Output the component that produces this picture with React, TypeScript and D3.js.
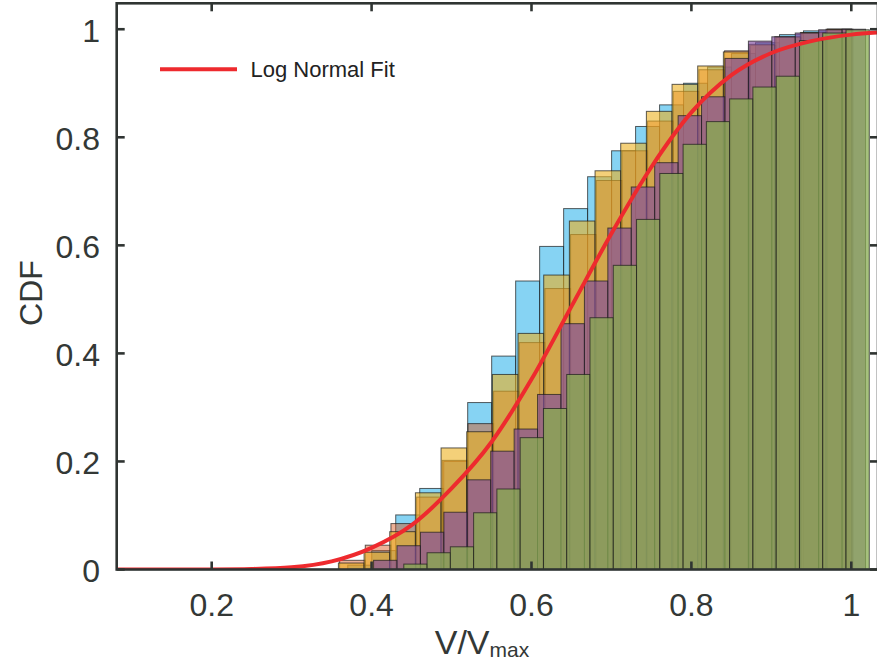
import React from 'react';
import * as d3 from 'd3';

// ---- data ----
const xTicks = [0.2, 0.4, 0.6, 0.8, 1];
const yTicks = [0, 0.2, 0.4, 0.6, 0.8, 1];
const xTickLabels = ['0.2', '0.4', '0.6', '0.8', '1'];
const yTickLabels = ['0', '0.2', '0.4', '0.6', '0.8', '1'];

const blueStart = 0.3702;
const blueWidth = 0.03;
const blueCdf = [0.008, 0.035, 0.101, 0.150, 0.20, 0.309, 0.395, 0.534, 0.598, 0.668, 0.727, 0.775, 0.82, 0.86, 0.90, 0.93, 0.955, 0.975, 0.99, 0.997, 1.0];

const orangeStart = 0.3600;
const orangeWidth = 0.0321;
const orangeCdf = [0.017, 0.045, 0.085, 0.134, 0.202, 0.270, 0.33, 0.42, 0.52, 0.62, 0.72, 0.775, 0.83, 0.885, 0.925, 0.96, 0.97, 0.985, 0.993, 1.0];

const yellowStart = 0.3585;
const yellowWidth = 0.0321;
const yellowCdf = [0.012, 0.032, 0.07, 0.142, 0.225, 0.255, 0.361, 0.437, 0.545, 0.645, 0.738, 0.789, 0.848, 0.898, 0.932, 0.958, 0.972, 0.986, 0.994, 1.0];

const purpleStart = 0.4025;
const purpleWidth = 0.0293;
const purpleCdf = [0.017, 0.044, 0.069, 0.106, 0.166, 0.219, 0.26, 0.324, 0.455, 0.534, 0.632, 0.708, 0.753, 0.840, 0.875, 0.946, 0.978, 0.986, 0.993, 0.999, 1.0];

const greenStart = 0.4403;
const greenWidth = 0.02911;
const greenCdf = [0.010, 0.031, 0.042, 0.105, 0.149, 0.244, 0.298, 0.361, 0.466, 0.563, 0.648, 0.733, 0.787, 0.829, 0.871, 0.893, 0.913, 0.979, 0.993, 0.999];

const fitX = [0.08, 0.15, 0.2, 0.25, 0.3, 0.35, 0.4, 0.45, 0.5, 0.55, 0.6, 0.65, 0.7, 0.75, 0.8, 0.85, 0.9, 0.95, 1.0, 1.035];
const fitY = [0, 0, 0.0002, 0.001, 0.004, 0.015, 0.040, 0.082, 0.150, 0.236, 0.352, 0.487, 0.622, 0.745, 0.846, 0.915, 0.956, 0.978, 0.990, 0.994];

const legendLabel = 'Log Normal Fit';

// ---- layout ----
const W = 877;
const H = 672;
const left = 116.7;
const right = 878;
const top = 3.3;
const bottom = 569.5;

const series = [
  { name: 'blue', color: '#4DBEEE', alpha: 0.68, start: blueStart, width: blueWidth, cdf: blueCdf },
  { name: 'orange', color: '#D95319', alpha: 0.45, start: orangeStart, width: orangeWidth, cdf: orangeCdf },
  { name: 'yellow', color: '#EDB120', alpha: 0.6, start: yellowStart, width: yellowWidth, cdf: yellowCdf },
  { name: 'purple', color: '#7F4A9E', alpha: 0.65, start: purpleStart, width: purpleWidth, cdf: purpleCdf },
  { name: 'green', color: '#88AC52', alpha: 0.75, start: greenStart, width: greenWidth, cdf: greenCdf },
];

export default function App() {
  const x = d3.scaleLinear().domain([0.0812, 1.0334]).range([left, right]);
  const y = d3.scaleLinear().domain([0, 1.048]).range([bottom, top]);
  const axisColor = '#2f3432';
  const textColor = '#333836';
  const font = "'Liberation Sans', Arial, Helvetica, sans-serif";

  const line = d3
    .line<number>()
    .x((_, i) => x(fitX[i]))
    .y((d) => y(d))
    .curve(d3.curveMonotoneX);

  return (
    <svg width={W} height={H} style={{ position: 'absolute', left: 0, top: 0, background: '#fff' }}>
      <defs>
        <clipPath id="plot">
          <rect x={left} y={top} width={right - left} height={bottom - top} />
        </clipPath>
      </defs>
      <g clipPath="url(#plot)">
        {series.map((s) => (
          <g key={s.name}>
            {s.cdf.map((v, i) => {
              const x0 = x(s.start + i * s.width);
              const x1 = x(s.start + (i + 1) * s.width);
              return (
                <rect
                  key={i}
                  x={x0}
                  y={y(v)}
                  width={x1 - x0}
                  height={y(0) - y(v)}
                  fill={s.color}
                  fillOpacity={s.alpha}
                  stroke="#1a1a1a"
                  strokeOpacity={0.7}
                  strokeWidth={1}
                />
              );
            })}
          </g>
        ))}
        <path d={line(fitY) || ''} fill="none" stroke="#EE2A2E" strokeWidth={4} strokeLinejoin="round" />
      </g>
      {/* axes box */}
      <rect x={left} y={top} width={right - left} height={bottom - top} fill="none" stroke={axisColor} strokeWidth={2.6} />
      {xTicks.map((t) => (
        <g key={'xt' + t}>
          <line x1={x(t)} x2={x(t)} y1={bottom} y2={bottom - 8} stroke={axisColor} strokeWidth={2.6} />
          <line x1={x(t)} x2={x(t)} y1={top} y2={top + 8} stroke={axisColor} strokeWidth={2.6} />
        </g>
      ))}
      {yTicks.map((t) => (
        <g key={'yt' + t}>
          <line x1={left} x2={left + 8} y1={y(t)} y2={y(t)} stroke={axisColor} strokeWidth={2.6} />
          <line x1={right} x2={right - 8} y1={y(t)} y2={y(t)} stroke={axisColor} strokeWidth={2.6} />
        </g>
      ))}
      {xTicks.map((t, i) => (
        <text key={'xl' + t} x={x(t)} y={616} textAnchor="middle" fontFamily={font} fontSize={32} fill={textColor}>
          {xTickLabels[i]}
        </text>
      ))}
      {yTicks.map((t, i) => (
        <text key={'yl' + t} x={100} y={y(t) + 12.5} textAnchor="end" fontFamily={font} fontSize={32} fill={textColor}>
          {yTickLabels[i]}
        </text>
      ))}
      <text x={482} y={654} textAnchor="middle" fontFamily={font} fontSize={34} fill={textColor}>
        V/V<tspan fontSize={21} dy={3}>max</tspan>
      </text>
      <text
        transform={`translate(42, 293) rotate(-90)`}
        textAnchor="middle"
        fontFamily={font}
        fontSize={32}
        fill={textColor}
      >
        CDF
      </text>
      {/* legend */}
      <line x1={160} x2={237} y1={69.3} y2={69.3} stroke="#EE2A2E" strokeWidth={4} />
      <text x={250.5} y={77} fontFamily={font} fontSize={22} fill="#222">
        {legendLabel}
      </text>
    </svg>
  );
}
